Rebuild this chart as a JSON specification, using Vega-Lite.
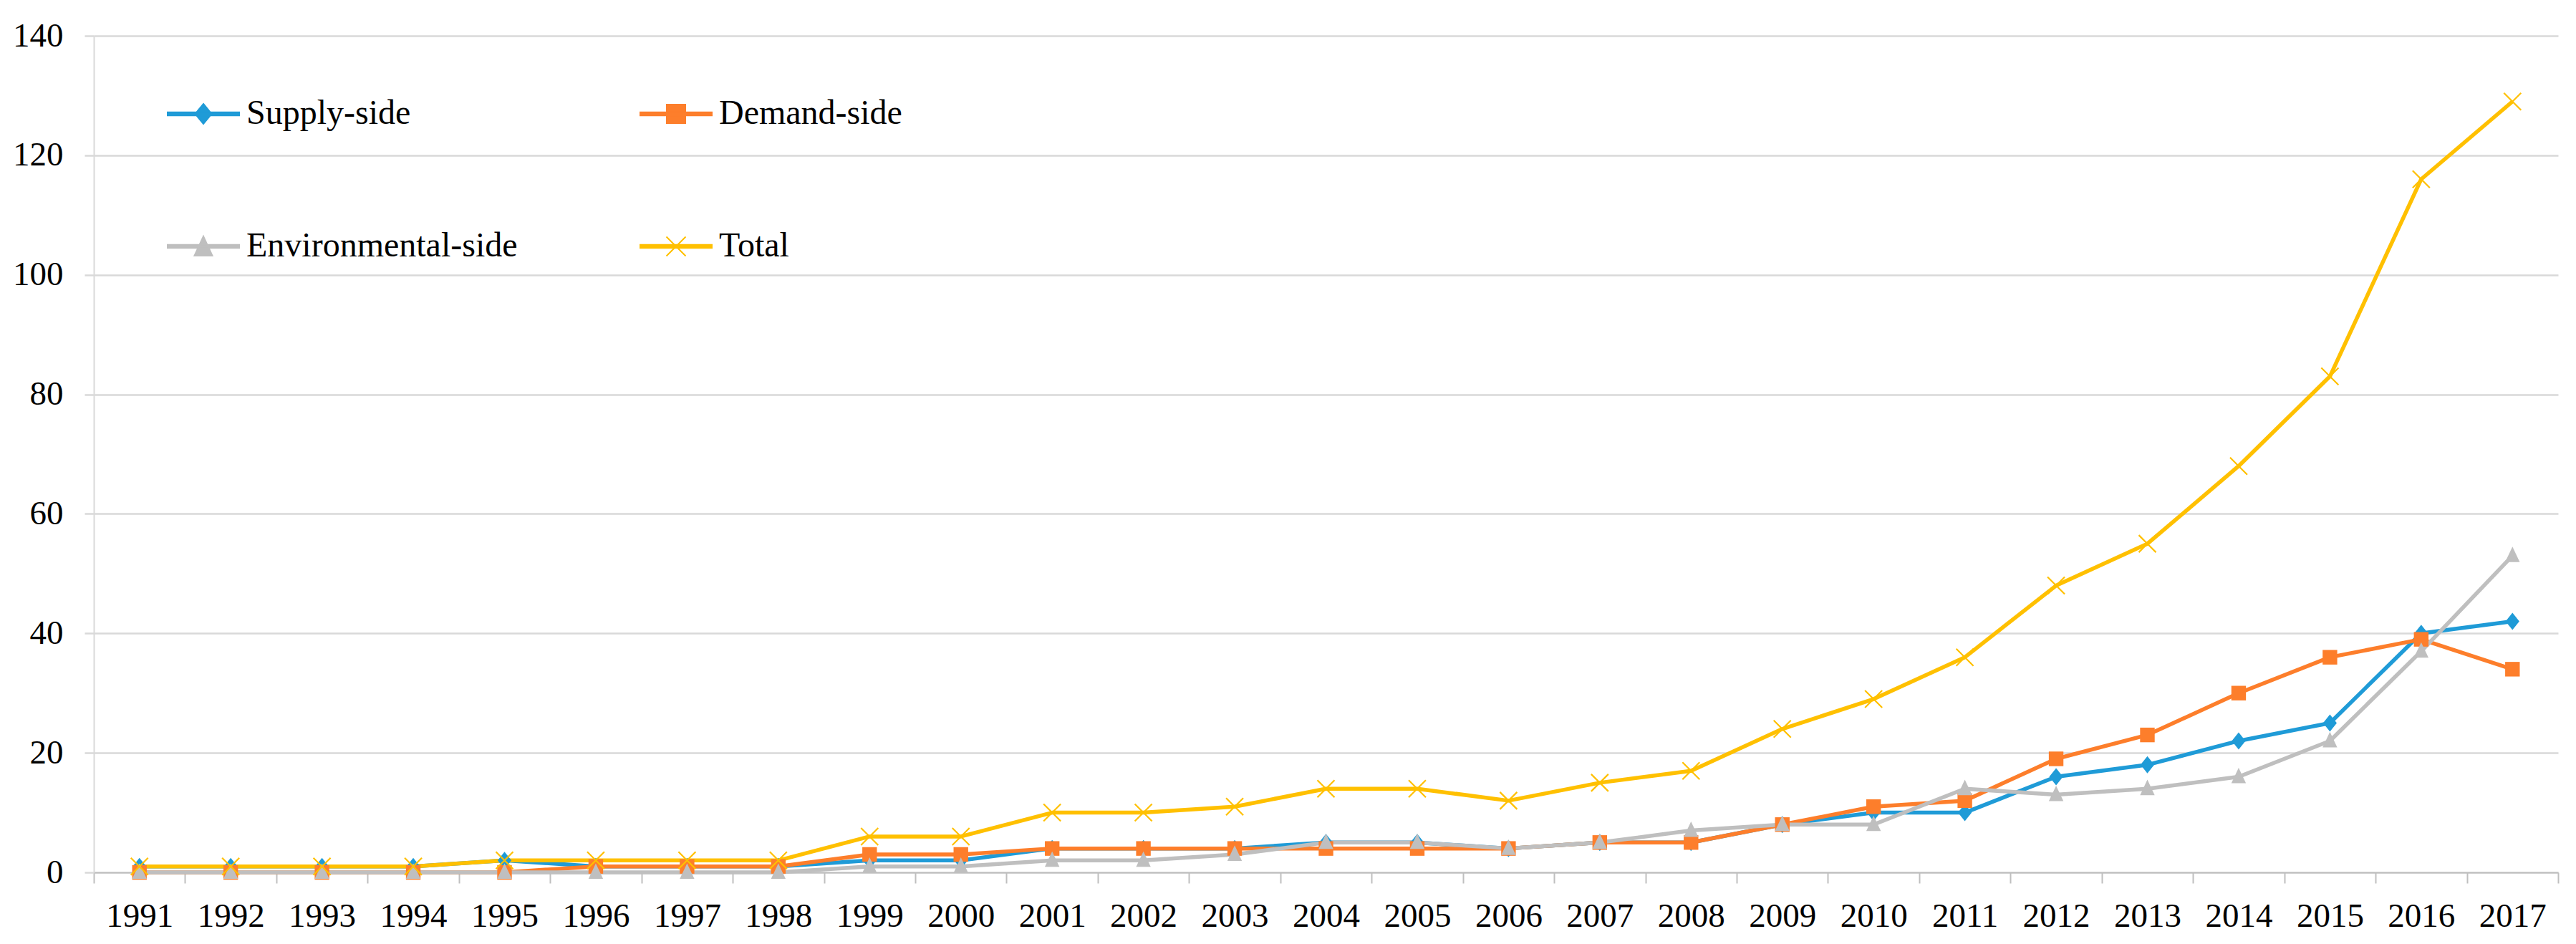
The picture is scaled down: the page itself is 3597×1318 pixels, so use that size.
{
  "$schema": "https://vega.github.io/schema/vega-lite/v6.json",
  "width": 3441,
  "height": 1168,
  "autosize": {"type": "none"},
  "padding": {"left": 131, "top": 50, "right": 25, "bottom": 100},
  "background": "white",
  "config": {"view": {"stroke": null}, "font": "Liberation Serif"},
  "data": {
    "values": [
      {"year": "1991", "series": "Supply-side", "value": 1},
      {"year": "1992", "series": "Supply-side", "value": 1},
      {"year": "1993", "series": "Supply-side", "value": 1},
      {"year": "1994", "series": "Supply-side", "value": 1},
      {"year": "1995", "series": "Supply-side", "value": 2},
      {"year": "1996", "series": "Supply-side", "value": 1},
      {"year": "1997", "series": "Supply-side", "value": 1},
      {"year": "1998", "series": "Supply-side", "value": 1},
      {"year": "1999", "series": "Supply-side", "value": 2},
      {"year": "2000", "series": "Supply-side", "value": 2},
      {"year": "2001", "series": "Supply-side", "value": 4},
      {"year": "2002", "series": "Supply-side", "value": 4},
      {"year": "2003", "series": "Supply-side", "value": 4},
      {"year": "2004", "series": "Supply-side", "value": 5},
      {"year": "2005", "series": "Supply-side", "value": 5},
      {"year": "2006", "series": "Supply-side", "value": 4},
      {"year": "2007", "series": "Supply-side", "value": 5},
      {"year": "2008", "series": "Supply-side", "value": 5},
      {"year": "2009", "series": "Supply-side", "value": 8},
      {"year": "2010", "series": "Supply-side", "value": 10},
      {"year": "2011", "series": "Supply-side", "value": 10},
      {"year": "2012", "series": "Supply-side", "value": 16},
      {"year": "2013", "series": "Supply-side", "value": 18},
      {"year": "2014", "series": "Supply-side", "value": 22},
      {"year": "2015", "series": "Supply-side", "value": 25},
      {"year": "2016", "series": "Supply-side", "value": 40},
      {"year": "2017", "series": "Supply-side", "value": 42},
      {"year": "1991", "series": "Demand-side", "value": 0},
      {"year": "1992", "series": "Demand-side", "value": 0},
      {"year": "1993", "series": "Demand-side", "value": 0},
      {"year": "1994", "series": "Demand-side", "value": 0},
      {"year": "1995", "series": "Demand-side", "value": 0},
      {"year": "1996", "series": "Demand-side", "value": 1},
      {"year": "1997", "series": "Demand-side", "value": 1},
      {"year": "1998", "series": "Demand-side", "value": 1},
      {"year": "1999", "series": "Demand-side", "value": 3},
      {"year": "2000", "series": "Demand-side", "value": 3},
      {"year": "2001", "series": "Demand-side", "value": 4},
      {"year": "2002", "series": "Demand-side", "value": 4},
      {"year": "2003", "series": "Demand-side", "value": 4},
      {"year": "2004", "series": "Demand-side", "value": 4},
      {"year": "2005", "series": "Demand-side", "value": 4},
      {"year": "2006", "series": "Demand-side", "value": 4},
      {"year": "2007", "series": "Demand-side", "value": 5},
      {"year": "2008", "series": "Demand-side", "value": 5},
      {"year": "2009", "series": "Demand-side", "value": 8},
      {"year": "2010", "series": "Demand-side", "value": 11},
      {"year": "2011", "series": "Demand-side", "value": 12},
      {"year": "2012", "series": "Demand-side", "value": 19},
      {"year": "2013", "series": "Demand-side", "value": 23},
      {"year": "2014", "series": "Demand-side", "value": 30},
      {"year": "2015", "series": "Demand-side", "value": 36},
      {"year": "2016", "series": "Demand-side", "value": 39},
      {"year": "2017", "series": "Demand-side", "value": 34},
      {"year": "1991", "series": "Environmental-side", "value": 0},
      {"year": "1992", "series": "Environmental-side", "value": 0},
      {"year": "1993", "series": "Environmental-side", "value": 0},
      {"year": "1994", "series": "Environmental-side", "value": 0},
      {"year": "1995", "series": "Environmental-side", "value": 0},
      {"year": "1996", "series": "Environmental-side", "value": 0},
      {"year": "1997", "series": "Environmental-side", "value": 0},
      {"year": "1998", "series": "Environmental-side", "value": 0},
      {"year": "1999", "series": "Environmental-side", "value": 1},
      {"year": "2000", "series": "Environmental-side", "value": 1},
      {"year": "2001", "series": "Environmental-side", "value": 2},
      {"year": "2002", "series": "Environmental-side", "value": 2},
      {"year": "2003", "series": "Environmental-side", "value": 3},
      {"year": "2004", "series": "Environmental-side", "value": 5},
      {"year": "2005", "series": "Environmental-side", "value": 5},
      {"year": "2006", "series": "Environmental-side", "value": 4},
      {"year": "2007", "series": "Environmental-side", "value": 5},
      {"year": "2008", "series": "Environmental-side", "value": 7},
      {"year": "2009", "series": "Environmental-side", "value": 8},
      {"year": "2010", "series": "Environmental-side", "value": 8},
      {"year": "2011", "series": "Environmental-side", "value": 14},
      {"year": "2012", "series": "Environmental-side", "value": 13},
      {"year": "2013", "series": "Environmental-side", "value": 14},
      {"year": "2014", "series": "Environmental-side", "value": 16},
      {"year": "2015", "series": "Environmental-side", "value": 22},
      {"year": "2016", "series": "Environmental-side", "value": 37},
      {"year": "2017", "series": "Environmental-side", "value": 53},
      {"year": "1991", "series": "Total", "value": 1},
      {"year": "1992", "series": "Total", "value": 1},
      {"year": "1993", "series": "Total", "value": 1},
      {"year": "1994", "series": "Total", "value": 1},
      {"year": "1995", "series": "Total", "value": 2},
      {"year": "1996", "series": "Total", "value": 2},
      {"year": "1997", "series": "Total", "value": 2},
      {"year": "1998", "series": "Total", "value": 2},
      {"year": "1999", "series": "Total", "value": 6},
      {"year": "2000", "series": "Total", "value": 6},
      {"year": "2001", "series": "Total", "value": 10},
      {"year": "2002", "series": "Total", "value": 10},
      {"year": "2003", "series": "Total", "value": 11},
      {"year": "2004", "series": "Total", "value": 14},
      {"year": "2005", "series": "Total", "value": 14},
      {"year": "2006", "series": "Total", "value": 12},
      {"year": "2007", "series": "Total", "value": 15},
      {"year": "2008", "series": "Total", "value": 17},
      {"year": "2009", "series": "Total", "value": 24},
      {"year": "2010", "series": "Total", "value": 29},
      {"year": "2011", "series": "Total", "value": 36},
      {"year": "2012", "series": "Total", "value": 48},
      {"year": "2013", "series": "Total", "value": 55},
      {"year": "2014", "series": "Total", "value": 68},
      {"year": "2015", "series": "Total", "value": 83},
      {"year": "2016", "series": "Total", "value": 116},
      {"year": "2017", "series": "Total", "value": 129}
    ]
  },
  "encoding": {
    "x": {
      "field": "year",
      "type": "ordinal",
      "sort": null,
      "scale": {"type": "band", "paddingInner": 0, "paddingOuter": 0},
      "axis": {
        "title": null,
        "labelAngle": 0,
        "tickBand": "extent",
        "ticks": true,
        "tickSize": 15,
        "tickColor": "#bfbfbf",
        "tickWidth": 2,
        "domainColor": "#bfbfbf",
        "domainWidth": 2,
        "grid": false,
        "labelFont": "Liberation Serif",
        "labelFontSize": 47,
        "labelColor": "#000000",
        "labelBaseline": "alphabetic",
        "labelPadding": 60
      }
    },
    "y": {
      "field": "value",
      "type": "quantitative",
      "scale": {"domain": [0, 140], "nice": false},
      "axis": {
        "title": null,
        "values": [0, 20, 40, 60, 80, 100, 120, 140],
        "grid": true,
        "gridColor": "#d9d9d9",
        "gridWidth": 2.5,
        "domainColor": "#d9d9d9",
        "domainWidth": 2,
        "tickSize": 13,
        "tickColor": "#d9d9d9",
        "tickWidth": 2.5,
        "labelFont": "Liberation Serif",
        "labelFontSize": 47,
        "labelColor": "#000000",
        "labelPadding": 30
      }
    },
    "color": {
      "field": "series",
      "type": "nominal",
      "scale": {
        "domain": ["Supply-side", "Demand-side", "Environmental-side", "Total"],
        "range": ["#1f9bd7", "#fd7e2b", "#bfbfbf", "#ffc000"]
      },
      "legend": {
        "orient": "none",
        "direction": "horizontal",
        "legendX": 102,
        "legendY": 58,
        "columns": 2,
        "title": null,
        "padding": 0,
        "labelFont": "Liberation Serif",
        "labelFontSize": 48,
        "labelColor": "#000000",
        "labelOffset": 9,
        "labelLimit": 0,
        "columnPadding": 167,
        "rowPadding": 110,
        "symbolSize": 10000,
        "symbolOpacity": 1,
        "encode": {
          "symbols": {
            "update": {
              "shape": {"signal": "datum.value === 'Supply-side' ? 'M-1,-0.045H1V0.045H-1ZM0,-0.28L0.23,0L0,0.28L-0.23,0Z' : datum.value === 'Demand-side' ? 'M-1,-0.045H1V0.045H-1ZM-0.26,-0.26H0.26V0.26H-0.26Z' : datum.value === 'Environmental-side' ? 'M-1,-0.045H1V0.045H-1ZM0,-0.28L0.25,0.26H-0.25Z' : 'M-1,-0.045H1V0.045H-1ZM-0.27,-0.27L0.27,0.27M-0.27,0.27L0.27,-0.27'"},
              "fill": {"scale": "color", "field": "value"},
              "stroke": {"scale": "color", "field": "value"},
              "strokeWidth": {"value": 2},
              "opacity": {"value": 1},
              "fillOpacity": {"value": 1},
              "strokeOpacity": {"value": 1}
            }
          }
        }
      }
    }
  },
  "layer": [
    {"mark": {"type": "line", "strokeWidth": 5.5, "strokeJoin": "round"}},
    {
      "transform": [{"filter": "datum.series !== 'Total'"}],
      "mark": {"type": "point", "filled": true, "opacity": 1, "size": 576, "strokeWidth": 0},
      "encoding": {
        "shape": {
          "field": "series",
          "type": "nominal",
          "scale": {
            "domain": ["Supply-side", "Demand-side", "Environmental-side"],
            "range": ["M0,-1L0.8,0L0,1L-0.8,0Z", "M-0.85,-0.85H0.85V0.85H-0.85Z", "M0,-1.05L0.85,0.75H-0.85Z"]
          },
          "legend": null
        }
      }
    },
    {
      "transform": [{"filter": "datum.series === 'Total'"}],
      "mark": {"type": "point", "filled": false, "opacity": 1, "size": 576, "strokeWidth": 2.2, "shape": "M-1,-1L1,1M-1,1L1,-1"}
    }
  ]
}
